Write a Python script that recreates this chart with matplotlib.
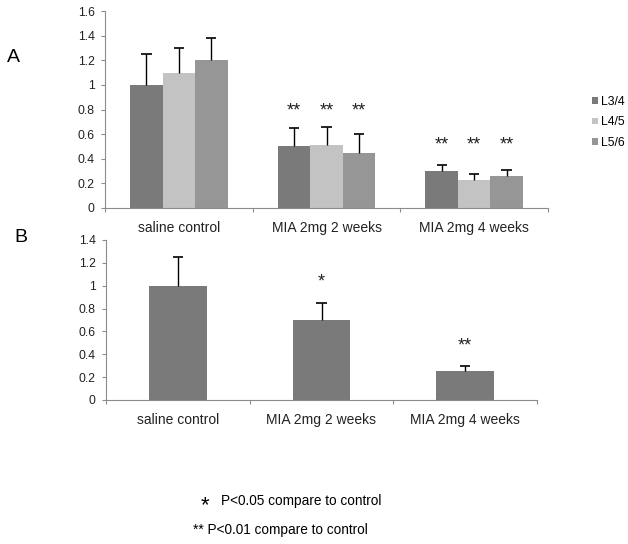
import matplotlib.pyplot as plt
import numpy as np

plt.rcParams["font.family"] = ["Liberation Sans", "DejaVu Sans"]

groups = ["saline control", "MIA 2mg 2 weeks", "MIA 2mg 4 weeks"]
series = ["L3/4", "L4/5", "L5/6"]
colors = ["#7a7a7a", "#c3c3c3", "#969696"]

# panel A: mean and upper error per segment
a_vals = [[1.0, 0.50, 0.30], [1.1, 0.51, 0.23], [1.2, 0.45, 0.26]]
a_err = [[0.25, 0.15, 0.05], [0.20, 0.15, 0.05], [0.18, 0.15, 0.05]]
a_marks = [["", "**", "**"], ["", "**", "**"], ["", "**", "**"]]
a_mark_y = [0, 0.79, 0.51]

# panel B
b_vals = [1.0, 0.70, 0.25]
b_err = [0.25, 0.15, 0.045]
b_marks = ["", "*", "**"]
b_mark_y = [0, 1.03, 0.47]

W, H = 628, 544
fig = plt.figure(figsize=(W / 100, H / 100), dpi=100)


def style_axes(ax, ymax):
    for s in ["top", "right"]:
        ax.spines[s].set_visible(False)
    for s in ["left", "bottom"]:
        ax.spines[s].set_color("#8c8c8c")
        ax.spines[s].set_linewidth(0.8)
    ax.set_xlim(0, 3)
    ax.set_ylim(0, ymax)
    ax.set_yticks(np.arange(0, ymax + 0.01, 0.2))
    ax.set_yticklabels(["0"] + [f"{v:g}" for v in np.arange(0.2, ymax + 0.01, 0.2)])
    ax.set_xticks([0, 1, 2, 3])
    ax.set_xticklabels([])
    ax.tick_params(axis="both", colors="#8c8c8c", labelcolor="#222222",
                   labelsize=8.8, length=3, width=0.8, pad=4.5)
    for i, g in enumerate(groups):
        ax.annotate(g, (i + 0.5, 0), xycoords=("data", "axes fraction"),
                    xytext=(0, -14.5), textcoords="offset points",
                    ha="center", va="center", fontsize=10, color="#222222")


def upper_err(ax, xs, vals, errs, cap=0.035):
    tops = np.asarray(vals) + np.asarray(errs)
    ax.vlines(xs, vals, tops, color="black", lw=1, zorder=3)
    ax.hlines(tops, np.asarray(xs) - cap, np.asarray(xs) + cap,
              color="black", lw=1.2, zorder=3)


# Panel A
axA = fig.add_axes([105 / W, 1 - 208 / H, (548 - 105) / W, (208 - 11) / H])
style_axes(axA, 1.6)
bw = 0.22
x = np.arange(3) + 0.5
for k, (s, c) in enumerate(zip(series, colors)):
    xs = x + (k - 1) * bw
    axA.bar(xs, a_vals[k], width=bw, color=c, label=s, zorder=2)
    upper_err(axA, xs, a_vals[k], a_err[k])
    for i in range(3):
        if a_marks[k][i]:
            axA.text(xs[i], a_mark_y[i], a_marks[k][i], ha="center", va="center",
                     fontsize=13, color="#222222")
axA.legend(loc="center left", bbox_to_anchor=(1.075, 0.435), frameon=False,
           fontsize=8.8, handlelength=0.45, handleheight=0.45,
           handletextpad=0.3, labelspacing=0.7)

# Panel B
axB = fig.add_axes([106 / W, 1 - 400 / H, (537 - 106) / W, (400 - 240) / H])
style_axes(axB, 1.4)
axB.bar(x, b_vals, width=0.4, color=colors[0], zorder=2)
upper_err(axB, x, b_vals, b_err)
for i in range(3):
    if b_marks[i]:
        axB.text(x[i], b_mark_y[i], b_marks[i], ha="center", va="center",
                 fontsize=13, color="#222222")

# panel letters
fig.text(7 / W, 1 - 57 / H, "A", fontsize=14, ha="left", va="center")
fig.text(14 / W, 1 - 237 / H, "B", fontsize=14, ha="left", va="center")

# footnote
fig.text(205 / W, 1 - 506 / H, "*", fontsize=16, ha="center", va="center")
fig.text(221 / W, 1 - 501 / H, "P<0.05 compare to control", fontsize=9.8,
         ha="left", va="center")
fig.text(193 / W, 1 - 530 / H, "** P<0.01 compare to control", fontsize=9.8,
         ha="left", va="center")

fig.savefig("out.png", dpi=100)
